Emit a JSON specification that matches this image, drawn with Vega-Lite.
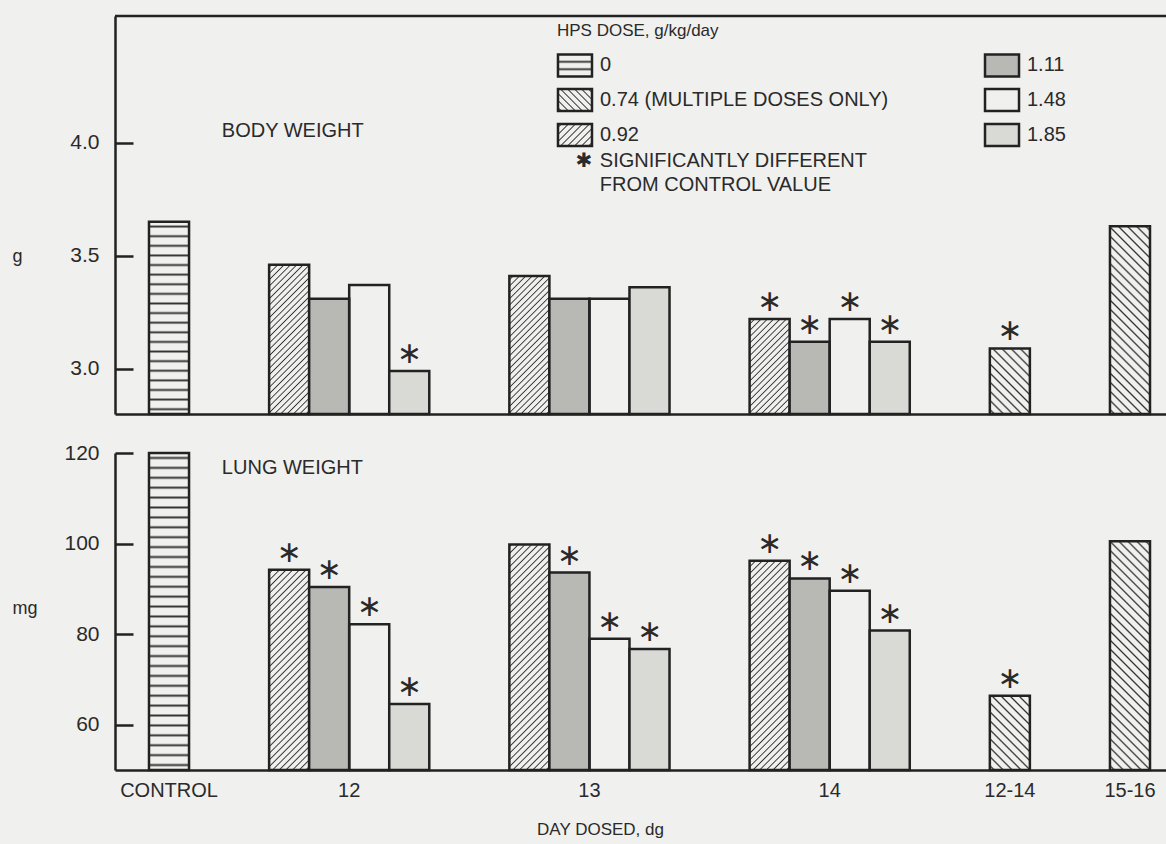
{
  "$schema": "https://vega.github.io/schema/vega-lite/v6.json",
  "background": "#f0f0ee",
  "padding": {"left": 12, "top": 14, "right": 0, "bottom": 30},
  "config": {
    "view": {"stroke": null},
    "font": "Liberation Sans",
    "axis": {"domainColor": "#222", "domainWidth": 2.5, "tickColor": "#222", "tickWidth": 2.5, "tickSize": -18, "labelPadding": 34, "grid": false, "labelFont": "Liberation Sans", "labelFontSize": 21, "labelColor": "#2a2a2a", "titleFont": "Liberation Sans", "titleFontSize": 18, "titleFontWeight": "normal", "titleColor": "#2a2a2a"},
    "legend": {"labelFont": "Liberation Sans", "titleFont": "Liberation Sans"}
  },
  "datasets": {
    "bars": [
      {"day": "CONTROL", "dose": "0", "bar": "CONTROL 0", "body": 3.65, "lung": 120, "sigBody": false, "sigLung": false},
      {"day": "12", "dose": "0.92", "bar": "12 0.92", "body": 3.46, "lung": 94.2, "sigBody": false, "sigLung": true},
      {"day": "12", "dose": "1.11", "bar": "12 1.11", "body": 3.31, "lung": 90.4, "sigBody": false, "sigLung": true},
      {"day": "12", "dose": "1.48", "bar": "12 1.48", "body": 3.37, "lung": 82.2, "sigBody": false, "sigLung": true},
      {"day": "12", "dose": "1.85", "bar": "12 1.85", "body": 2.99, "lung": 64.6, "sigBody": true, "sigLung": true},
      {"day": "13", "dose": "0.92", "bar": "13 0.92", "body": 3.41, "lung": 99.8, "sigBody": false, "sigLung": false},
      {"day": "13", "dose": "1.11", "bar": "13 1.11", "body": 3.31, "lung": 93.6, "sigBody": false, "sigLung": true},
      {"day": "13", "dose": "1.48", "bar": "13 1.48", "body": 3.31, "lung": 79.0, "sigBody": false, "sigLung": true},
      {"day": "13", "dose": "1.85", "bar": "13 1.85", "body": 3.36, "lung": 76.7, "sigBody": false, "sigLung": true},
      {"day": "14", "dose": "0.92", "bar": "14 0.92", "body": 3.22, "lung": 96.2, "sigBody": true, "sigLung": true},
      {"day": "14", "dose": "1.11", "bar": "14 1.11", "body": 3.12, "lung": 92.3, "sigBody": true, "sigLung": true},
      {"day": "14", "dose": "1.48", "bar": "14 1.48", "body": 3.22, "lung": 89.6, "sigBody": true, "sigLung": true},
      {"day": "14", "dose": "1.85", "bar": "14 1.85", "body": 3.12, "lung": 80.8, "sigBody": true, "sigLung": true},
      {"day": "12-14", "dose": "0.74", "bar": "12-14 0.74", "body": 3.09, "lung": 66.4, "sigBody": true, "sigLung": true},
      {"day": "15-16", "dose": "0.74", "bar": "15-16 0.74", "body": 3.63, "lung": 100.5, "sigBody": false, "sigLung": false}
    ]
  },
  "spacing": 39,
  "bounds": "flush",
  "vconcat": [
    {
      "width": 1054,
      "height": 398,
      "data": {"name": "bars"},
      "encoding": {
        "y": {"field": "body", "type": "quantitative", "scale": {"domain": [2.8, 4.56], "nice": false, "zero": false},
          "axis": {"values": [3, 3.5, 4], "format": ".1f", "title": "g", "titleX": -103, "titleY": 240, "titleAngle": 0, "titleAlign": "left", "titleBaseline": "middle"}}
      },
      "layer": [
        {
          "transform": [{"filter": "datum.dose === '0'"}],
          "mark": {"type": "bar", "strokeWidth": 0, "fill": {"gradient": "linear", "x1": 0, "y1": 0, "x2": 0, "y2": 1, "stops": [
            {"offset": 0.015, "color": "#f0f0ee"}, {"offset": 0.025, "color": "#333"}, {"offset": 0.035, "color": "#f0f0ee"},
            {"offset": 0.065, "color": "#f0f0ee"}, {"offset": 0.075, "color": "#333"}, {"offset": 0.085, "color": "#f0f0ee"},
            {"offset": 0.115, "color": "#f0f0ee"}, {"offset": 0.125, "color": "#333"}, {"offset": 0.135, "color": "#f0f0ee"},
            {"offset": 0.165, "color": "#f0f0ee"}, {"offset": 0.175, "color": "#333"}, {"offset": 0.185, "color": "#f0f0ee"},
            {"offset": 0.215, "color": "#f0f0ee"}, {"offset": 0.225, "color": "#333"}, {"offset": 0.235, "color": "#f0f0ee"},
            {"offset": 0.265, "color": "#f0f0ee"}, {"offset": 0.275, "color": "#333"}, {"offset": 0.285, "color": "#f0f0ee"},
            {"offset": 0.315, "color": "#f0f0ee"}, {"offset": 0.325, "color": "#333"}, {"offset": 0.335, "color": "#f0f0ee"},
            {"offset": 0.365, "color": "#f0f0ee"}, {"offset": 0.375, "color": "#333"}, {"offset": 0.385, "color": "#f0f0ee"},
            {"offset": 0.415, "color": "#f0f0ee"}, {"offset": 0.425, "color": "#333"}, {"offset": 0.435, "color": "#f0f0ee"},
            {"offset": 0.465, "color": "#f0f0ee"}, {"offset": 0.475, "color": "#333"}, {"offset": 0.485, "color": "#f0f0ee"},
            {"offset": 0.515, "color": "#f0f0ee"}, {"offset": 0.525, "color": "#333"}, {"offset": 0.535, "color": "#f0f0ee"},
            {"offset": 0.565, "color": "#f0f0ee"}, {"offset": 0.575, "color": "#333"}, {"offset": 0.585, "color": "#f0f0ee"},
            {"offset": 0.615, "color": "#f0f0ee"}, {"offset": 0.625, "color": "#333"}, {"offset": 0.635, "color": "#f0f0ee"},
            {"offset": 0.665, "color": "#f0f0ee"}, {"offset": 0.675, "color": "#333"}, {"offset": 0.685, "color": "#f0f0ee"},
            {"offset": 0.715, "color": "#f0f0ee"}, {"offset": 0.725, "color": "#333"}, {"offset": 0.735, "color": "#f0f0ee"},
            {"offset": 0.765, "color": "#f0f0ee"}, {"offset": 0.775, "color": "#333"}, {"offset": 0.785, "color": "#f0f0ee"},
            {"offset": 0.815, "color": "#f0f0ee"}, {"offset": 0.825, "color": "#333"}, {"offset": 0.835, "color": "#f0f0ee"},
            {"offset": 0.865, "color": "#f0f0ee"}, {"offset": 0.875, "color": "#333"}, {"offset": 0.885, "color": "#f0f0ee"},
            {"offset": 0.915, "color": "#f0f0ee"}, {"offset": 0.925, "color": "#333"}, {"offset": 0.935, "color": "#f0f0ee"},
            {"offset": 0.965, "color": "#f0f0ee"}, {"offset": 0.975, "color": "#333"}, {"offset": 0.985, "color": "#f0f0ee"}
          ]}},
          "encoding": {
            "x": {"field": "bar", "type": "nominal",
              "scale": {"domain": ["CONTROL 0", "gap1", "gap2", "12 0.92", "12 1.11", "12 1.48", "12 1.85", "gap3", "gap4", "13 0.92", "13 1.11", "13 1.48", "13 1.85", "gap5", "gap6", "14 0.92", "14 1.11", "14 1.48", "14 1.85", "gap7", "gap8", "12-14 0.74", "gap9", "gap10", "15-16 0.74"], "paddingInner": 0, "paddingOuter": 0.6618, "align": 0.6415},
              "axis": {"labels": false, "ticks": false, "title": null}},
            "y": {"datum": 3.65, "type": "quantitative"},
            "y2": {"datum": 2.8}
          }
        },
        {
          "transform": [{"filter": "datum.dose === '0.92'"}],
          "mark": {"type": "bar", "strokeWidth": 0, "fill": {"gradient": "linear", "x1": 0, "y1": 0, "x2": 0.3157, "y2": 1.1827, "stops": [
            {"offset": 0.01, "color": "#f0f0ee"}, {"offset": 0.0167, "color": "#333"}, {"offset": 0.0233, "color": "#f0f0ee"},
            {"offset": 0.0433, "color": "#f0f0ee"}, {"offset": 0.05, "color": "#333"}, {"offset": 0.0567, "color": "#f0f0ee"},
            {"offset": 0.0767, "color": "#f0f0ee"}, {"offset": 0.0833, "color": "#333"}, {"offset": 0.09, "color": "#f0f0ee"},
            {"offset": 0.11, "color": "#f0f0ee"}, {"offset": 0.1167, "color": "#333"}, {"offset": 0.1233, "color": "#f0f0ee"},
            {"offset": 0.1433, "color": "#f0f0ee"}, {"offset": 0.15, "color": "#333"}, {"offset": 0.1567, "color": "#f0f0ee"},
            {"offset": 0.1767, "color": "#f0f0ee"}, {"offset": 0.1833, "color": "#333"}, {"offset": 0.19, "color": "#f0f0ee"},
            {"offset": 0.21, "color": "#f0f0ee"}, {"offset": 0.2167, "color": "#333"}, {"offset": 0.2233, "color": "#f0f0ee"},
            {"offset": 0.2433, "color": "#f0f0ee"}, {"offset": 0.25, "color": "#333"}, {"offset": 0.2567, "color": "#f0f0ee"},
            {"offset": 0.2767, "color": "#f0f0ee"}, {"offset": 0.2833, "color": "#333"}, {"offset": 0.29, "color": "#f0f0ee"},
            {"offset": 0.31, "color": "#f0f0ee"}, {"offset": 0.3167, "color": "#333"}, {"offset": 0.3233, "color": "#f0f0ee"},
            {"offset": 0.3433, "color": "#f0f0ee"}, {"offset": 0.35, "color": "#333"}, {"offset": 0.3567, "color": "#f0f0ee"},
            {"offset": 0.3767, "color": "#f0f0ee"}, {"offset": 0.3833, "color": "#333"}, {"offset": 0.39, "color": "#f0f0ee"},
            {"offset": 0.41, "color": "#f0f0ee"}, {"offset": 0.4167, "color": "#333"}, {"offset": 0.4233, "color": "#f0f0ee"},
            {"offset": 0.4433, "color": "#f0f0ee"}, {"offset": 0.45, "color": "#333"}, {"offset": 0.4567, "color": "#f0f0ee"},
            {"offset": 0.4767, "color": "#f0f0ee"}, {"offset": 0.4833, "color": "#333"}, {"offset": 0.49, "color": "#f0f0ee"},
            {"offset": 0.51, "color": "#f0f0ee"}, {"offset": 0.5167, "color": "#333"}, {"offset": 0.5233, "color": "#f0f0ee"},
            {"offset": 0.5433, "color": "#f0f0ee"}, {"offset": 0.55, "color": "#333"}, {"offset": 0.5567, "color": "#f0f0ee"},
            {"offset": 0.5767, "color": "#f0f0ee"}, {"offset": 0.5833, "color": "#333"}, {"offset": 0.59, "color": "#f0f0ee"},
            {"offset": 0.61, "color": "#f0f0ee"}, {"offset": 0.6167, "color": "#333"}, {"offset": 0.6233, "color": "#f0f0ee"},
            {"offset": 0.6433, "color": "#f0f0ee"}, {"offset": 0.65, "color": "#333"}, {"offset": 0.6567, "color": "#f0f0ee"},
            {"offset": 0.6767, "color": "#f0f0ee"}, {"offset": 0.6833, "color": "#333"}, {"offset": 0.69, "color": "#f0f0ee"},
            {"offset": 0.71, "color": "#f0f0ee"}, {"offset": 0.7167, "color": "#333"}, {"offset": 0.7233, "color": "#f0f0ee"},
            {"offset": 0.7433, "color": "#f0f0ee"}, {"offset": 0.75, "color": "#333"}, {"offset": 0.7567, "color": "#f0f0ee"},
            {"offset": 0.7767, "color": "#f0f0ee"}, {"offset": 0.7833, "color": "#333"}, {"offset": 0.79, "color": "#f0f0ee"},
            {"offset": 0.81, "color": "#f0f0ee"}, {"offset": 0.8167, "color": "#333"}, {"offset": 0.8233, "color": "#f0f0ee"},
            {"offset": 0.8433, "color": "#f0f0ee"}, {"offset": 0.85, "color": "#333"}, {"offset": 0.8567, "color": "#f0f0ee"},
            {"offset": 0.8767, "color": "#f0f0ee"}, {"offset": 0.8833, "color": "#333"}, {"offset": 0.89, "color": "#f0f0ee"},
            {"offset": 0.91, "color": "#f0f0ee"}, {"offset": 0.9167, "color": "#333"}, {"offset": 0.9233, "color": "#f0f0ee"},
            {"offset": 0.9433, "color": "#f0f0ee"}, {"offset": 0.95, "color": "#333"}, {"offset": 0.9567, "color": "#f0f0ee"},
            {"offset": 0.9767, "color": "#f0f0ee"}, {"offset": 0.9833, "color": "#333"}, {"offset": 0.99, "color": "#f0f0ee"}
          ]}},
          "encoding": {
            "x": {"field": "bar", "type": "nominal"},
            "y": {"datum": 3.4633, "type": "quantitative"},
            "y2": {"datum": 2.8}
          }
        },
        {
          "transform": [{"filter": "datum.dose === '0.74'"}],
          "mark": {"type": "bar", "strokeWidth": 0, "fill": {"gradient": "linear", "x1": 0, "y1": 1, "x2": 0.2471, "y2": -0.1603, "stops": [
            {"offset": 0.012, "color": "#f0f0ee"}, {"offset": 0.02, "color": "#333"}, {"offset": 0.028, "color": "#f0f0ee"},
            {"offset": 0.052, "color": "#f0f0ee"}, {"offset": 0.06, "color": "#333"}, {"offset": 0.068, "color": "#f0f0ee"},
            {"offset": 0.092, "color": "#f0f0ee"}, {"offset": 0.1, "color": "#333"}, {"offset": 0.108, "color": "#f0f0ee"},
            {"offset": 0.132, "color": "#f0f0ee"}, {"offset": 0.14, "color": "#333"}, {"offset": 0.148, "color": "#f0f0ee"},
            {"offset": 0.172, "color": "#f0f0ee"}, {"offset": 0.18, "color": "#333"}, {"offset": 0.188, "color": "#f0f0ee"},
            {"offset": 0.212, "color": "#f0f0ee"}, {"offset": 0.22, "color": "#333"}, {"offset": 0.228, "color": "#f0f0ee"},
            {"offset": 0.252, "color": "#f0f0ee"}, {"offset": 0.26, "color": "#333"}, {"offset": 0.268, "color": "#f0f0ee"},
            {"offset": 0.292, "color": "#f0f0ee"}, {"offset": 0.3, "color": "#333"}, {"offset": 0.308, "color": "#f0f0ee"},
            {"offset": 0.332, "color": "#f0f0ee"}, {"offset": 0.34, "color": "#333"}, {"offset": 0.348, "color": "#f0f0ee"},
            {"offset": 0.372, "color": "#f0f0ee"}, {"offset": 0.38, "color": "#333"}, {"offset": 0.388, "color": "#f0f0ee"},
            {"offset": 0.412, "color": "#f0f0ee"}, {"offset": 0.42, "color": "#333"}, {"offset": 0.428, "color": "#f0f0ee"},
            {"offset": 0.452, "color": "#f0f0ee"}, {"offset": 0.46, "color": "#333"}, {"offset": 0.468, "color": "#f0f0ee"},
            {"offset": 0.492, "color": "#f0f0ee"}, {"offset": 0.5, "color": "#333"}, {"offset": 0.508, "color": "#f0f0ee"},
            {"offset": 0.532, "color": "#f0f0ee"}, {"offset": 0.54, "color": "#333"}, {"offset": 0.548, "color": "#f0f0ee"},
            {"offset": 0.572, "color": "#f0f0ee"}, {"offset": 0.58, "color": "#333"}, {"offset": 0.588, "color": "#f0f0ee"},
            {"offset": 0.612, "color": "#f0f0ee"}, {"offset": 0.62, "color": "#333"}, {"offset": 0.628, "color": "#f0f0ee"},
            {"offset": 0.652, "color": "#f0f0ee"}, {"offset": 0.66, "color": "#333"}, {"offset": 0.668, "color": "#f0f0ee"},
            {"offset": 0.692, "color": "#f0f0ee"}, {"offset": 0.7, "color": "#333"}, {"offset": 0.708, "color": "#f0f0ee"},
            {"offset": 0.732, "color": "#f0f0ee"}, {"offset": 0.74, "color": "#333"}, {"offset": 0.748, "color": "#f0f0ee"},
            {"offset": 0.772, "color": "#f0f0ee"}, {"offset": 0.78, "color": "#333"}, {"offset": 0.788, "color": "#f0f0ee"},
            {"offset": 0.812, "color": "#f0f0ee"}, {"offset": 0.82, "color": "#333"}, {"offset": 0.828, "color": "#f0f0ee"},
            {"offset": 0.852, "color": "#f0f0ee"}, {"offset": 0.86, "color": "#333"}, {"offset": 0.868, "color": "#f0f0ee"},
            {"offset": 0.892, "color": "#f0f0ee"}, {"offset": 0.9, "color": "#333"}, {"offset": 0.908, "color": "#f0f0ee"},
            {"offset": 0.932, "color": "#f0f0ee"}, {"offset": 0.94, "color": "#333"}, {"offset": 0.948, "color": "#f0f0ee"},
            {"offset": 0.972, "color": "#f0f0ee"}, {"offset": 0.98, "color": "#333"}, {"offset": 0.988, "color": "#f0f0ee"}
          ]}},
          "encoding": {
            "x": {"field": "bar", "type": "nominal"},
            "y": {"datum": 3.6314, "type": "quantitative"},
            "y2": {"datum": 2.8}
          }
        },
        {
          "transform": [{"filter": "datum.dose === '0.92' || datum.dose === '0.74'"}],
          "mark": {"type": "bar", "fill": "#f0f0ee", "stroke": "#f0f0ee", "strokeWidth": 1.5},
          "encoding": {
            "x": {"field": "bar", "type": "nominal"},
            "y2": {"datum": 3.75}
          }
        },
        {
          "mark": {"type": "bar", "stroke": "#222", "strokeWidth": 2.5},
          "encoding": {
            "x": {"field": "bar", "type": "nominal"},
            "y2": {"datum": 2.8},
            "fill": {"condition": [{"test": "datum.dose === '1.11'", "value": "#b8b8b4"}, {"test": "datum.dose === '1.85'", "value": "#d9d9d5"}], "value": "transparent"},
            "opacity": {"field": "dose", "type": "nominal",
              "scale": {"domain": ["0", "0.74", "0.92", "1.11", "1.48", "1.85"], "range": [1, 1, 1, 1, 1, 1]},
              "legend": {
                "title": "HPS DOSE, g/kg/day",
                "orient": "none", "legendX": 442, "legendY": 7, "padding": 0,
                "columns": 2, "columnPadding": 91, "rowPadding": 0,
                "symbolType": "M-1,-0.65H1V0.65H-1Z", "symbolSize": 1156, "symbolStrokeWidth": 2.5, "symbolStrokeColor": "transparent", "symbolFillColor": "transparent",
                "labelFontSize": 20, "labelColor": "#2a2a2a", "labelOffset": 6, "labelLimit": 500,
                "labelExpr": "datum.value === '0.74' ? '0.74 (MULTIPLE DOSES ONLY)' : datum.label",
                "titleFontSize": 17, "titleFontWeight": "normal", "titleColor": "#2a2a2a", "titlePadding": 6
              }}
          }
        },
        {
          "transform": [{"filter": "datum.dose === '0'"}],
          "mark": {"type": "point", "shape": "M-1,-0.65H1V0.65H-1Z", "size": 1156, "filled": true, "opacity": 1, "stroke": "#222", "strokeWidth": 2.5,
            "fill": {"gradient": "linear", "x1": 0, "y1": 0, "x2": 0, "y2": 1, "stops": [
              {"offset": 0.25, "color": "#f0f0ee"}, {"offset": 0.333, "color": "#333"}, {"offset": 0.417, "color": "#f0f0ee"},
              {"offset": 0.583, "color": "#f0f0ee"}, {"offset": 0.667, "color": "#333"}, {"offset": 0.75, "color": "#f0f0ee"}]}},
          "encoding": {
            "x": {"datum": "13 1.11", "type": "nominal", "bandPosition": 0.639},
            "y": {"datum": 4.3411, "type": "quantitative"}
          }
        },
        {
          "transform": [{"filter": "datum.dose === '0'"}],
          "mark": {"type": "point", "shape": "M-1,-0.65H1V0.65H-1Z", "size": 1156, "filled": true, "opacity": 1, "stroke": "#222", "strokeWidth": 2.5,
            "fill": {"gradient": "linear", "x1": 0, "y1": 1, "x2": 1.161, "y2": 0.2488, "stops": [
              {"offset": 0.0375, "color": "#f0f0ee"}, {"offset": 0.0625, "color": "#333"}, {"offset": 0.0875, "color": "#f0f0ee"},
              {"offset": 0.1625, "color": "#f0f0ee"}, {"offset": 0.1875, "color": "#333"}, {"offset": 0.2125, "color": "#f0f0ee"},
              {"offset": 0.2875, "color": "#f0f0ee"}, {"offset": 0.3125, "color": "#333"}, {"offset": 0.3375, "color": "#f0f0ee"},
              {"offset": 0.4125, "color": "#f0f0ee"}, {"offset": 0.4375, "color": "#333"}, {"offset": 0.4625, "color": "#f0f0ee"},
              {"offset": 0.5375, "color": "#f0f0ee"}, {"offset": 0.5625, "color": "#333"}, {"offset": 0.5875, "color": "#f0f0ee"},
              {"offset": 0.6625, "color": "#f0f0ee"}, {"offset": 0.6875, "color": "#333"}, {"offset": 0.7125, "color": "#f0f0ee"},
              {"offset": 0.7875, "color": "#f0f0ee"}, {"offset": 0.8125, "color": "#333"}, {"offset": 0.8375, "color": "#f0f0ee"},
              {"offset": 0.9125, "color": "#f0f0ee"}, {"offset": 0.9375, "color": "#333"}, {"offset": 0.9625, "color": "#f0f0ee"}]}},
          "encoding": {
            "x": {"datum": "13 1.11", "type": "nominal", "bandPosition": 0.639},
            "y": {"datum": 4.1885, "type": "quantitative"}
          }
        },
        {
          "transform": [{"filter": "datum.dose === '0'"}],
          "mark": {"type": "point", "shape": "M-1,-0.65H1V0.65H-1Z", "size": 1156, "filled": true, "opacity": 1, "stroke": "#222", "strokeWidth": 2.5,
            "fill": {"gradient": "linear", "x1": 0, "y1": 0, "x2": 1.161, "y2": 0.7512, "stops": [
              {"offset": 0.0375, "color": "#f0f0ee"}, {"offset": 0.0625, "color": "#333"}, {"offset": 0.0875, "color": "#f0f0ee"},
              {"offset": 0.1625, "color": "#f0f0ee"}, {"offset": 0.1875, "color": "#333"}, {"offset": 0.2125, "color": "#f0f0ee"},
              {"offset": 0.2875, "color": "#f0f0ee"}, {"offset": 0.3125, "color": "#333"}, {"offset": 0.3375, "color": "#f0f0ee"},
              {"offset": 0.4125, "color": "#f0f0ee"}, {"offset": 0.4375, "color": "#333"}, {"offset": 0.4625, "color": "#f0f0ee"},
              {"offset": 0.5375, "color": "#f0f0ee"}, {"offset": 0.5625, "color": "#333"}, {"offset": 0.5875, "color": "#f0f0ee"},
              {"offset": 0.6625, "color": "#f0f0ee"}, {"offset": 0.6875, "color": "#333"}, {"offset": 0.7125, "color": "#f0f0ee"},
              {"offset": 0.7875, "color": "#f0f0ee"}, {"offset": 0.8125, "color": "#333"}, {"offset": 0.8375, "color": "#f0f0ee"},
              {"offset": 0.9125, "color": "#f0f0ee"}, {"offset": 0.9375, "color": "#333"}, {"offset": 0.9625, "color": "#f0f0ee"}]}},
          "encoding": {
            "x": {"datum": "13 1.11", "type": "nominal", "bandPosition": 0.639},
            "y": {"datum": 4.0338, "type": "quantitative"}
          }
        },
        {
          "transform": [{"filter": "datum.dose === '0'"}],
          "mark": {"type": "point", "shape": "M-1,-0.65H1V0.65H-1Z", "size": 1156, "filled": true, "opacity": 1, "stroke": "#222", "strokeWidth": 2.5, "fill": "#b8b8b4"},
          "encoding": {
            "x": {"datum": "12-14 0.74", "type": "nominal", "bandPosition": 0.304},
            "y": {"datum": 4.3411, "type": "quantitative"}
          }
        },
        {
          "transform": [{"filter": "datum.dose === '0'"}],
          "mark": {"type": "point", "shape": "M-1,-0.65H1V0.65H-1Z", "size": 1156, "filled": true, "opacity": 1, "stroke": "#222", "strokeWidth": 2.5, "fill": "#f0f0ee"},
          "encoding": {
            "x": {"datum": "12-14 0.74", "type": "nominal", "bandPosition": 0.304},
            "y": {"datum": 4.1885, "type": "quantitative"}
          }
        },
        {
          "transform": [{"filter": "datum.dose === '0'"}],
          "mark": {"type": "point", "shape": "M-1,-0.65H1V0.65H-1Z", "size": 1156, "filled": true, "opacity": 1, "stroke": "#222", "strokeWidth": 2.5, "fill": "#d9d9d5"},
          "encoding": {
            "x": {"datum": "12-14 0.74", "type": "nominal", "bandPosition": 0.304},
            "y": {"datum": 4.0338, "type": "quantitative"}
          }
        },
        {
          "transform": [{"filter": "datum.sigBody"}],
          "mark": {"type": "text", "text": "∗", "font": "DejaVu Sans", "fontSize": 30, "baseline": "middle", "dy": -17, "fill": "#2a2a2a"},
          "encoding": {"x": {"field": "bar", "type": "nominal"}}
        },
        {
          "transform": [{"filter": "datum.dose === '0'"}],
          "mark": {"type": "rule", "stroke": "#222", "strokeWidth": 2.5},
          "encoding": {"y": {"datum": 4.56, "type": "quantitative"}}
        },
        {
          "transform": [{"filter": "datum.dose === '0'"}],
          "mark": {"type": "text", "text": "BODY WEIGHT", "align": "left", "baseline": "middle", "fontSize": 20, "fill": "#2a2a2a"},
          "encoding": {
            "x": {"datum": "gap1", "type": "nominal", "bandPosition": 0.82},
            "y": {"datum": 4.05, "type": "quantitative"}
          }
        },
        {
          "transform": [{"filter": "datum.dose === '0'"}],
          "mark": {"type": "text", "text": "✱", "align": "center", "baseline": "middle", "font": "DejaVu Sans", "fontSize": 20, "fill": "#2a2a2a"},
          "encoding": {
            "x": {"datum": "13 1.11", "type": "nominal", "bandPosition": 0.86},
            "y": {"datum": 3.919, "type": "quantitative"}
          }
        },
        {
          "transform": [{"filter": "datum.dose === '0'"}],
          "mark": {"type": "text", "text": ["SIGNIFICANTLY DIFFERENT", "FROM CONTROL VALUE"], "align": "left", "baseline": "middle", "lineHeight": 24, "fontSize": 20, "fill": "#2a2a2a"},
          "encoding": {
            "x": {"datum": "13 1.48", "type": "nominal", "bandPosition": 0.26},
            "y": {"datum": 3.919, "type": "quantitative"}
          }
        }
      ]
    },
    {
      "width": 1054,
      "height": 317,
      "data": {"name": "bars"},
      "encoding": {
        "y": {"field": "lung", "type": "quantitative", "scale": {"domain": [50, 120], "nice": false, "zero": false},
          "axis": {"values": [60, 80, 100, 120], "format": "d", "title": "mg", "titleX": -103, "titleY": 155, "titleAngle": 0, "titleAlign": "left", "titleBaseline": "middle"}}
      },
      "layer": [
        {
          "transform": [{"filter": "datum.dose === '0'"}],
          "mark": {"type": "bar", "strokeWidth": 0, "fill": {"gradient": "linear", "x1": 0, "y1": 0, "x2": 0, "y2": 1, "stops": [
            {"offset": 0.0094, "color": "#f0f0ee"}, {"offset": 0.0156, "color": "#333"}, {"offset": 0.0219, "color": "#f0f0ee"},
            {"offset": 0.0406, "color": "#f0f0ee"}, {"offset": 0.0469, "color": "#333"}, {"offset": 0.0531, "color": "#f0f0ee"},
            {"offset": 0.0719, "color": "#f0f0ee"}, {"offset": 0.0781, "color": "#333"}, {"offset": 0.0844, "color": "#f0f0ee"},
            {"offset": 0.1031, "color": "#f0f0ee"}, {"offset": 0.1094, "color": "#333"}, {"offset": 0.1156, "color": "#f0f0ee"},
            {"offset": 0.1344, "color": "#f0f0ee"}, {"offset": 0.1406, "color": "#333"}, {"offset": 0.1469, "color": "#f0f0ee"},
            {"offset": 0.1656, "color": "#f0f0ee"}, {"offset": 0.1719, "color": "#333"}, {"offset": 0.1781, "color": "#f0f0ee"},
            {"offset": 0.1969, "color": "#f0f0ee"}, {"offset": 0.2031, "color": "#333"}, {"offset": 0.2094, "color": "#f0f0ee"},
            {"offset": 0.2281, "color": "#f0f0ee"}, {"offset": 0.2344, "color": "#333"}, {"offset": 0.2406, "color": "#f0f0ee"},
            {"offset": 0.2594, "color": "#f0f0ee"}, {"offset": 0.2656, "color": "#333"}, {"offset": 0.2719, "color": "#f0f0ee"},
            {"offset": 0.2906, "color": "#f0f0ee"}, {"offset": 0.2969, "color": "#333"}, {"offset": 0.3031, "color": "#f0f0ee"},
            {"offset": 0.3219, "color": "#f0f0ee"}, {"offset": 0.3281, "color": "#333"}, {"offset": 0.3344, "color": "#f0f0ee"},
            {"offset": 0.3531, "color": "#f0f0ee"}, {"offset": 0.3594, "color": "#333"}, {"offset": 0.3656, "color": "#f0f0ee"},
            {"offset": 0.3844, "color": "#f0f0ee"}, {"offset": 0.3906, "color": "#333"}, {"offset": 0.3969, "color": "#f0f0ee"},
            {"offset": 0.4156, "color": "#f0f0ee"}, {"offset": 0.4219, "color": "#333"}, {"offset": 0.4281, "color": "#f0f0ee"},
            {"offset": 0.4469, "color": "#f0f0ee"}, {"offset": 0.4531, "color": "#333"}, {"offset": 0.4594, "color": "#f0f0ee"},
            {"offset": 0.4781, "color": "#f0f0ee"}, {"offset": 0.4844, "color": "#333"}, {"offset": 0.4906, "color": "#f0f0ee"},
            {"offset": 0.5094, "color": "#f0f0ee"}, {"offset": 0.5156, "color": "#333"}, {"offset": 0.5219, "color": "#f0f0ee"},
            {"offset": 0.5406, "color": "#f0f0ee"}, {"offset": 0.5469, "color": "#333"}, {"offset": 0.5531, "color": "#f0f0ee"},
            {"offset": 0.5719, "color": "#f0f0ee"}, {"offset": 0.5781, "color": "#333"}, {"offset": 0.5844, "color": "#f0f0ee"},
            {"offset": 0.6031, "color": "#f0f0ee"}, {"offset": 0.6094, "color": "#333"}, {"offset": 0.6156, "color": "#f0f0ee"},
            {"offset": 0.6344, "color": "#f0f0ee"}, {"offset": 0.6406, "color": "#333"}, {"offset": 0.6469, "color": "#f0f0ee"},
            {"offset": 0.6656, "color": "#f0f0ee"}, {"offset": 0.6719, "color": "#333"}, {"offset": 0.6781, "color": "#f0f0ee"},
            {"offset": 0.6969, "color": "#f0f0ee"}, {"offset": 0.7031, "color": "#333"}, {"offset": 0.7094, "color": "#f0f0ee"},
            {"offset": 0.7281, "color": "#f0f0ee"}, {"offset": 0.7344, "color": "#333"}, {"offset": 0.7406, "color": "#f0f0ee"},
            {"offset": 0.7594, "color": "#f0f0ee"}, {"offset": 0.7656, "color": "#333"}, {"offset": 0.7719, "color": "#f0f0ee"},
            {"offset": 0.7906, "color": "#f0f0ee"}, {"offset": 0.7969, "color": "#333"}, {"offset": 0.8031, "color": "#f0f0ee"},
            {"offset": 0.8219, "color": "#f0f0ee"}, {"offset": 0.8281, "color": "#333"}, {"offset": 0.8344, "color": "#f0f0ee"},
            {"offset": 0.8531, "color": "#f0f0ee"}, {"offset": 0.8594, "color": "#333"}, {"offset": 0.8656, "color": "#f0f0ee"},
            {"offset": 0.8844, "color": "#f0f0ee"}, {"offset": 0.8906, "color": "#333"}, {"offset": 0.8969, "color": "#f0f0ee"},
            {"offset": 0.9156, "color": "#f0f0ee"}, {"offset": 0.9219, "color": "#333"}, {"offset": 0.9281, "color": "#f0f0ee"},
            {"offset": 0.9469, "color": "#f0f0ee"}, {"offset": 0.9531, "color": "#333"}, {"offset": 0.9594, "color": "#f0f0ee"},
            {"offset": 0.9781, "color": "#f0f0ee"}, {"offset": 0.9844, "color": "#333"}, {"offset": 0.9906, "color": "#f0f0ee"}
          ]}},
          "encoding": {
            "x": {"field": "bar", "type": "nominal",
              "scale": {"domain": ["CONTROL 0", "gap1", "gap2", "12 0.92", "12 1.11", "12 1.48", "12 1.85", "gap3", "gap4", "13 0.92", "13 1.11", "13 1.48", "13 1.85", "gap5", "gap6", "14 0.92", "14 1.11", "14 1.48", "14 1.85", "gap7", "gap8", "12-14 0.74", "gap9", "gap10", "15-16 0.74"], "paddingInner": 0, "paddingOuter": 0.6618, "align": 0.6415},
              "axis": {"labels": false, "ticks": false, "title": "DAY DOSED, dg", "titleX": 485, "titleY": 59, "titleAlign": "center", "titleBaseline": "middle", "titleFontSize": 17}},
            "y": {"datum": 120, "type": "quantitative"},
            "y2": {"datum": 50}
          }
        },
        {
          "transform": [{"filter": "datum.dose === '0.92'"}],
          "mark": {"type": "bar", "strokeWidth": 0, "fill": {"gradient": "linear", "x1": 0, "y1": 0, "x2": 0.2018, "y2": 1.1411, "stops": [
            {"offset": 0.0075, "color": "#f0f0ee"}, {"offset": 0.0125, "color": "#333"}, {"offset": 0.0175, "color": "#f0f0ee"},
            {"offset": 0.0325, "color": "#f0f0ee"}, {"offset": 0.0375, "color": "#333"}, {"offset": 0.0425, "color": "#f0f0ee"},
            {"offset": 0.0575, "color": "#f0f0ee"}, {"offset": 0.0625, "color": "#333"}, {"offset": 0.0675, "color": "#f0f0ee"},
            {"offset": 0.0825, "color": "#f0f0ee"}, {"offset": 0.0875, "color": "#333"}, {"offset": 0.0925, "color": "#f0f0ee"},
            {"offset": 0.1075, "color": "#f0f0ee"}, {"offset": 0.1125, "color": "#333"}, {"offset": 0.1175, "color": "#f0f0ee"},
            {"offset": 0.1325, "color": "#f0f0ee"}, {"offset": 0.1375, "color": "#333"}, {"offset": 0.1425, "color": "#f0f0ee"},
            {"offset": 0.1575, "color": "#f0f0ee"}, {"offset": 0.1625, "color": "#333"}, {"offset": 0.1675, "color": "#f0f0ee"},
            {"offset": 0.1825, "color": "#f0f0ee"}, {"offset": 0.1875, "color": "#333"}, {"offset": 0.1925, "color": "#f0f0ee"},
            {"offset": 0.2075, "color": "#f0f0ee"}, {"offset": 0.2125, "color": "#333"}, {"offset": 0.2175, "color": "#f0f0ee"},
            {"offset": 0.2325, "color": "#f0f0ee"}, {"offset": 0.2375, "color": "#333"}, {"offset": 0.2425, "color": "#f0f0ee"},
            {"offset": 0.2575, "color": "#f0f0ee"}, {"offset": 0.2625, "color": "#333"}, {"offset": 0.2675, "color": "#f0f0ee"},
            {"offset": 0.2825, "color": "#f0f0ee"}, {"offset": 0.2875, "color": "#333"}, {"offset": 0.2925, "color": "#f0f0ee"},
            {"offset": 0.3075, "color": "#f0f0ee"}, {"offset": 0.3125, "color": "#333"}, {"offset": 0.3175, "color": "#f0f0ee"},
            {"offset": 0.3325, "color": "#f0f0ee"}, {"offset": 0.3375, "color": "#333"}, {"offset": 0.3425, "color": "#f0f0ee"},
            {"offset": 0.3575, "color": "#f0f0ee"}, {"offset": 0.3625, "color": "#333"}, {"offset": 0.3675, "color": "#f0f0ee"},
            {"offset": 0.3825, "color": "#f0f0ee"}, {"offset": 0.3875, "color": "#333"}, {"offset": 0.3925, "color": "#f0f0ee"},
            {"offset": 0.4075, "color": "#f0f0ee"}, {"offset": 0.4125, "color": "#333"}, {"offset": 0.4175, "color": "#f0f0ee"},
            {"offset": 0.4325, "color": "#f0f0ee"}, {"offset": 0.4375, "color": "#333"}, {"offset": 0.4425, "color": "#f0f0ee"},
            {"offset": 0.4575, "color": "#f0f0ee"}, {"offset": 0.4625, "color": "#333"}, {"offset": 0.4675, "color": "#f0f0ee"},
            {"offset": 0.4825, "color": "#f0f0ee"}, {"offset": 0.4875, "color": "#333"}, {"offset": 0.4925, "color": "#f0f0ee"},
            {"offset": 0.5075, "color": "#f0f0ee"}, {"offset": 0.5125, "color": "#333"}, {"offset": 0.5175, "color": "#f0f0ee"},
            {"offset": 0.5325, "color": "#f0f0ee"}, {"offset": 0.5375, "color": "#333"}, {"offset": 0.5425, "color": "#f0f0ee"},
            {"offset": 0.5575, "color": "#f0f0ee"}, {"offset": 0.5625, "color": "#333"}, {"offset": 0.5675, "color": "#f0f0ee"},
            {"offset": 0.5825, "color": "#f0f0ee"}, {"offset": 0.5875, "color": "#333"}, {"offset": 0.5925, "color": "#f0f0ee"},
            {"offset": 0.6075, "color": "#f0f0ee"}, {"offset": 0.6125, "color": "#333"}, {"offset": 0.6175, "color": "#f0f0ee"},
            {"offset": 0.6325, "color": "#f0f0ee"}, {"offset": 0.6375, "color": "#333"}, {"offset": 0.6425, "color": "#f0f0ee"},
            {"offset": 0.6575, "color": "#f0f0ee"}, {"offset": 0.6625, "color": "#333"}, {"offset": 0.6675, "color": "#f0f0ee"},
            {"offset": 0.6825, "color": "#f0f0ee"}, {"offset": 0.6875, "color": "#333"}, {"offset": 0.6925, "color": "#f0f0ee"},
            {"offset": 0.7075, "color": "#f0f0ee"}, {"offset": 0.7125, "color": "#333"}, {"offset": 0.7175, "color": "#f0f0ee"},
            {"offset": 0.7325, "color": "#f0f0ee"}, {"offset": 0.7375, "color": "#333"}, {"offset": 0.7425, "color": "#f0f0ee"},
            {"offset": 0.7575, "color": "#f0f0ee"}, {"offset": 0.7625, "color": "#333"}, {"offset": 0.7675, "color": "#f0f0ee"},
            {"offset": 0.7825, "color": "#f0f0ee"}, {"offset": 0.7875, "color": "#333"}, {"offset": 0.7925, "color": "#f0f0ee"},
            {"offset": 0.8075, "color": "#f0f0ee"}, {"offset": 0.8125, "color": "#333"}, {"offset": 0.8175, "color": "#f0f0ee"},
            {"offset": 0.8325, "color": "#f0f0ee"}, {"offset": 0.8375, "color": "#333"}, {"offset": 0.8425, "color": "#f0f0ee"},
            {"offset": 0.8575, "color": "#f0f0ee"}, {"offset": 0.8625, "color": "#333"}, {"offset": 0.8675, "color": "#f0f0ee"},
            {"offset": 0.8825, "color": "#f0f0ee"}, {"offset": 0.8875, "color": "#333"}, {"offset": 0.8925, "color": "#f0f0ee"},
            {"offset": 0.9075, "color": "#f0f0ee"}, {"offset": 0.9125, "color": "#333"}, {"offset": 0.9175, "color": "#f0f0ee"},
            {"offset": 0.9325, "color": "#f0f0ee"}, {"offset": 0.9375, "color": "#333"}, {"offset": 0.9425, "color": "#f0f0ee"},
            {"offset": 0.9575, "color": "#f0f0ee"}, {"offset": 0.9625, "color": "#333"}, {"offset": 0.9675, "color": "#f0f0ee"},
            {"offset": 0.9825, "color": "#f0f0ee"}, {"offset": 0.9875, "color": "#333"}, {"offset": 0.9925, "color": "#f0f0ee"}
          ]}},
          "encoding": {
            "x": {"field": "bar", "type": "nominal"},
            "y": {"datum": 100, "type": "quantitative"},
            "y2": {"datum": 50}
          }
        },
        {
          "transform": [{"filter": "datum.dose === '0.74'"}],
          "mark": {"type": "bar", "strokeWidth": 0, "fill": {"gradient": "linear", "x1": 0, "y1": 1, "x2": 0.1993, "y2": -0.14, "stops": [
            {"offset": 0.01, "color": "#f0f0ee"}, {"offset": 0.0167, "color": "#333"}, {"offset": 0.0233, "color": "#f0f0ee"},
            {"offset": 0.0433, "color": "#f0f0ee"}, {"offset": 0.05, "color": "#333"}, {"offset": 0.0567, "color": "#f0f0ee"},
            {"offset": 0.0767, "color": "#f0f0ee"}, {"offset": 0.0833, "color": "#333"}, {"offset": 0.09, "color": "#f0f0ee"},
            {"offset": 0.11, "color": "#f0f0ee"}, {"offset": 0.1167, "color": "#333"}, {"offset": 0.1233, "color": "#f0f0ee"},
            {"offset": 0.1433, "color": "#f0f0ee"}, {"offset": 0.15, "color": "#333"}, {"offset": 0.1567, "color": "#f0f0ee"},
            {"offset": 0.1767, "color": "#f0f0ee"}, {"offset": 0.1833, "color": "#333"}, {"offset": 0.19, "color": "#f0f0ee"},
            {"offset": 0.21, "color": "#f0f0ee"}, {"offset": 0.2167, "color": "#333"}, {"offset": 0.2233, "color": "#f0f0ee"},
            {"offset": 0.2433, "color": "#f0f0ee"}, {"offset": 0.25, "color": "#333"}, {"offset": 0.2567, "color": "#f0f0ee"},
            {"offset": 0.2767, "color": "#f0f0ee"}, {"offset": 0.2833, "color": "#333"}, {"offset": 0.29, "color": "#f0f0ee"},
            {"offset": 0.31, "color": "#f0f0ee"}, {"offset": 0.3167, "color": "#333"}, {"offset": 0.3233, "color": "#f0f0ee"},
            {"offset": 0.3433, "color": "#f0f0ee"}, {"offset": 0.35, "color": "#333"}, {"offset": 0.3567, "color": "#f0f0ee"},
            {"offset": 0.3767, "color": "#f0f0ee"}, {"offset": 0.3833, "color": "#333"}, {"offset": 0.39, "color": "#f0f0ee"},
            {"offset": 0.41, "color": "#f0f0ee"}, {"offset": 0.4167, "color": "#333"}, {"offset": 0.4233, "color": "#f0f0ee"},
            {"offset": 0.4433, "color": "#f0f0ee"}, {"offset": 0.45, "color": "#333"}, {"offset": 0.4567, "color": "#f0f0ee"},
            {"offset": 0.4767, "color": "#f0f0ee"}, {"offset": 0.4833, "color": "#333"}, {"offset": 0.49, "color": "#f0f0ee"},
            {"offset": 0.51, "color": "#f0f0ee"}, {"offset": 0.5167, "color": "#333"}, {"offset": 0.5233, "color": "#f0f0ee"},
            {"offset": 0.5433, "color": "#f0f0ee"}, {"offset": 0.55, "color": "#333"}, {"offset": 0.5567, "color": "#f0f0ee"},
            {"offset": 0.5767, "color": "#f0f0ee"}, {"offset": 0.5833, "color": "#333"}, {"offset": 0.59, "color": "#f0f0ee"},
            {"offset": 0.61, "color": "#f0f0ee"}, {"offset": 0.6167, "color": "#333"}, {"offset": 0.6233, "color": "#f0f0ee"},
            {"offset": 0.6433, "color": "#f0f0ee"}, {"offset": 0.65, "color": "#333"}, {"offset": 0.6567, "color": "#f0f0ee"},
            {"offset": 0.6767, "color": "#f0f0ee"}, {"offset": 0.6833, "color": "#333"}, {"offset": 0.69, "color": "#f0f0ee"},
            {"offset": 0.71, "color": "#f0f0ee"}, {"offset": 0.7167, "color": "#333"}, {"offset": 0.7233, "color": "#f0f0ee"},
            {"offset": 0.7433, "color": "#f0f0ee"}, {"offset": 0.75, "color": "#333"}, {"offset": 0.7567, "color": "#f0f0ee"},
            {"offset": 0.7767, "color": "#f0f0ee"}, {"offset": 0.7833, "color": "#333"}, {"offset": 0.79, "color": "#f0f0ee"},
            {"offset": 0.81, "color": "#f0f0ee"}, {"offset": 0.8167, "color": "#333"}, {"offset": 0.8233, "color": "#f0f0ee"},
            {"offset": 0.8433, "color": "#f0f0ee"}, {"offset": 0.85, "color": "#333"}, {"offset": 0.8567, "color": "#f0f0ee"},
            {"offset": 0.8767, "color": "#f0f0ee"}, {"offset": 0.8833, "color": "#333"}, {"offset": 0.89, "color": "#f0f0ee"},
            {"offset": 0.91, "color": "#f0f0ee"}, {"offset": 0.9167, "color": "#333"}, {"offset": 0.9233, "color": "#f0f0ee"},
            {"offset": 0.9433, "color": "#f0f0ee"}, {"offset": 0.95, "color": "#333"}, {"offset": 0.9567, "color": "#f0f0ee"},
            {"offset": 0.9767, "color": "#f0f0ee"}, {"offset": 0.9833, "color": "#333"}, {"offset": 0.99, "color": "#f0f0ee"}
          ]}},
          "encoding": {
            "x": {"field": "bar", "type": "nominal"},
            "y": {"datum": 100.567, "type": "quantitative"},
            "y2": {"datum": 50}
          }
        },
        {
          "transform": [{"filter": "datum.dose === '0.92' || datum.dose === '0.74'"}],
          "mark": {"type": "bar", "fill": "#f0f0ee", "stroke": "#f0f0ee", "strokeWidth": 1.5},
          "encoding": {
            "x": {"field": "bar", "type": "nominal"},
            "y2": {"datum": 104}
          }
        },
        {
          "mark": {"type": "bar", "stroke": "#222", "strokeWidth": 2.5},
          "encoding": {
            "x": {"field": "bar", "type": "nominal"},
            "y2": {"datum": 50},
            "fill": {"condition": [{"test": "datum.dose === '1.11'", "value": "#b8b8b4"}, {"test": "datum.dose === '1.85'", "value": "#d9d9d5"}], "value": "transparent"}
          }
        },
        {
          "transform": [{"filter": "datum.sigLung"}],
          "mark": {"type": "text", "text": "∗", "font": "DejaVu Sans", "fontSize": 30, "baseline": "middle", "dy": -17, "fill": "#2a2a2a"},
          "encoding": {"x": {"field": "bar", "type": "nominal"}}
        },
        {
          "transform": [{"filter": "datum.dose === '1.11'"}],
          "mark": {"type": "text", "baseline": "middle", "align": "center", "dy": 21, "fontSize": 20, "fill": "#2a2a2a"},
          "encoding": {
            "x": {"field": "bar", "type": "nominal", "bandPosition": 1},
            "y": {"datum": 50, "type": "quantitative"},
            "text": {"field": "day"}
          }
        },
        {
          "transform": [{"filter": "datum.dose === '0' || datum.dose === '0.74'"}],
          "mark": {"type": "text", "baseline": "middle", "align": "center", "dy": 21, "fontSize": 20, "fill": "#2a2a2a"},
          "encoding": {
            "x": {"field": "bar", "type": "nominal"},
            "y": {"datum": 50, "type": "quantitative"},
            "text": {"field": "day"}
          }
        },
        {
          "transform": [{"filter": "datum.dose === '0'"}],
          "mark": {"type": "text", "text": "LUNG WEIGHT", "align": "left", "baseline": "middle", "fontSize": 20, "fill": "#2a2a2a"},
          "encoding": {
            "x": {"datum": "gap1", "type": "nominal", "bandPosition": 0.82},
            "y": {"datum": 116.69, "type": "quantitative"}
          }
        }
      ]
    }
  ]
}
